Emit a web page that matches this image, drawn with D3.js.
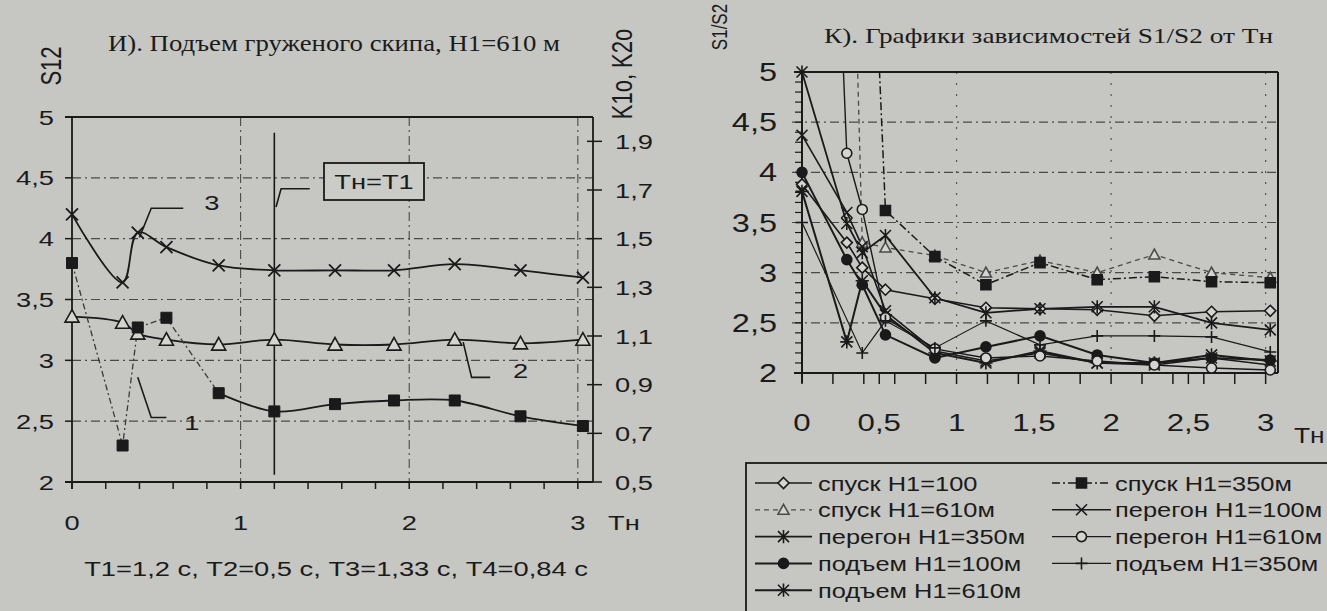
<!DOCTYPE html>
<html>
<head>
<meta charset="utf-8">
<script src="https://cdn.jsdelivr.net/npm/d3@7"></script>
<style>
  body { margin: 0; background: #c6c6c3; }
  svg { display: block; }
  text { fill: #1b1b1b; font-family: "Liberation Sans", Arial, sans-serif; }
  .serif { font-family: "Liberation Serif", "Times New Roman", serif; }
</style>
</head>
<body>
<div id="chart"></div>
<script>
// ===== DATA: panel И (left) =====
const tnLeft = [0, 0.3, 0.39, 0.56, 0.87, 1.2, 1.56, 1.91, 2.27, 2.66, 3.03];
const curve1 = [3.8, 2.3, 3.27, 3.35, 2.73, 2.58, 2.64, 2.67, 2.67, 2.54, 2.46];
const curve2 = [3.36, 3.31, 3.22, 3.17, 3.13, 3.17, 3.13, 3.13, 3.17, 3.14, 3.17];
const curve3 = [4.2, 3.64, 4.05, 3.93, 3.78, 3.74, 3.74, 3.74, 3.79, 3.74, 3.68];
const T1 = 1.2;
const leftYTicks = [2, 2.5, 3, 3.5, 4, 4.5, 5];
const leftKTicks = [0.5, 0.7, 0.9, 1.1, 1.3, 1.5, 1.7, 1.9];
const leftXTicks = [0, 1, 2, 3];
const leftTitle = "И). Подъем груженого скипа, Н1=610 м";
const leftCaption = "T1=1,2 с, T2=0,5 с, T3=1,33 с, T4=0,84 с";

// ===== DATA: panel К (right) =====
const tnRight = [0, 0.29, 0.39, 0.54, 0.86, 1.19, 1.54, 1.91, 2.28, 2.65, 3.03];
const spusk100   = [3.88, 3.3, 3.05, 2.83, 2.74, 2.65, 2.64, 2.63, 2.57, 2.61, 2.62];
const spusk610   = [16, 9, 3.3, 3.25, 3.17, 3.0, 3.12, 3.0, 3.18, 3.0, 2.95];
const peregon350 = [5.0, 3.49, 3.2, 3.37, 2.75, 2.6, 2.64, 2.66, 2.66, 2.5, 2.43];
const podem100   = [4.0, 3.13, 2.88, 2.38, 2.15, 2.26, 2.37, 2.18, 2.1, 2.15, 2.13];
const podem610   = [3.81, 2.31, 2.92, 2.58, 2.2, 2.1, 2.22, 2.1, 2.1, 2.18, 2.12];
const spusk350   = [null, null, 9, 3.62, 3.16, 2.88, 3.1, 2.93, 2.96, 2.91, 2.9];
const peregon100 = [4.37, 3.6, 3.26, 2.62, 2.22, 2.12, 2.2, 2.1, 2.08, 2.15, 2.08];
const peregon610 = [15, 4.19, 3.63, 2.55, 2.24, 2.15, 2.17, 2.12, 2.08, 2.05, 2.03];
const podem350   = [3.5, null, 2.2, 2.52, 2.25, 2.52, 2.28, 2.37, 2.37, 2.36, 2.21];
const rightYTicks = [2, 2.5, 3, 3.5, 4, 4.5, 5];
const rightXTicks = [0, 0.5, 1, 1.5, 2, 2.5, 3];
const rightTitle = "К). Графики зависимостей S1/S2 от Тн";

// ===== SIZE =====
const width = 1327;
const height = 611;
const ink = "#1a1a1a";
const sx = 1.3; // the scan's lettering is wide

const svg = d3.select("#chart")
  .append("svg")
  .attr("width", width)
  .attr("height", height);

function label(g, x, y, txt, size, anchor, stretch){
  return g.append("text")
    .attr("transform", `translate(${x},${y}) scale(${stretch || sx},1)`)
    .attr("text-anchor", anchor || "start")
    .style("font-size", size + "px")
    .text(txt);
}

function vlabel(g, x, y, txt, size){
  return g.append("text")
    .attr("transform", `translate(${x},${y}) rotate(-90) scale(1,${sx})`)
    .attr("text-anchor", "middle")
    .attr("dy", "0.35em")
    .style("font-size", size + "px")
    .text(txt);
}

function markerPath(type, r){
  if(type === "diamond") return `M0,${-r}L${r},0L0,${r}L${-r},0Z`;
  if(type === "triangle") return `M0,${-r}L${r},${r*0.8}L${-r},${r*0.8}Z`;
  if(type === "circle") return `M${r},0A${r},${r} 0 1,1 ${-r},0A${r},${r} 0 1,1 ${r},0Z`;
  if(type === "square") return `M${-r},${-r}H${r}V${r}H${-r}Z`;
  if(type === "times") return `M${-r},${-r}L${r},${r}M${-r},${r}L${r},${-r}`;
  if(type === "star") return markerPath("times", r) + `M0,${-r*1.2}L0,${r*1.2}`;
  if(type === "star8") return markerPath("star", r) + `M${-r*1.2},0L${r*1.2},0`;
  if(type === "plus") return `M${-r},0L${r},0M0,${-r}L0,${r}`;
  return "";
}

function drawMarker(g, x, y, st, r){
  g.append("path")
    .attr("transform", `translate(${x},${y})`)
    .attr("d", markerPath(st.marker, r))
    .attr("fill", st.fill)
    .attr("stroke", st.color || ink)
    .attr("stroke-width", st.mw || 1.6);
}

// ===================== LEFT PANEL =====================
const L = { x0: 72, x1: 593, y0: 117, y1: 482 };
const xL = d3.scaleLinear().domain([0, 3.09]).range([L.x0, L.x1]);
const yL = d3.scaleLinear().domain([2, 5]).range([L.y1, L.y0]);
const kL = d3.scaleLinear().domain([0.5, 2.0]).range([L.y1, L.y0]);

const gl = svg.append("g");

// grid (dash-dot)
gl.selectAll("line.hgrid")
  .data(leftYTicks.filter(v => v > 2 && v < 5))
  .join("line")
  .attr("x1", L.x0).attr("x2", L.x1)
  .attr("y1", d => yL(d)).attr("y2", d => yL(d))
  .attr("stroke", "#4a4a4a").attr("stroke-width", 1.2)
  .attr("stroke-dasharray", "9,4,2,4");

gl.selectAll("line.vgrid")
  .data(leftXTicks.filter(v => v > 0))
  .join("line")
  .attr("x1", d => xL(d)).attr("x2", d => xL(d))
  .attr("y1", L.y0).attr("y2", L.y1)
  .attr("stroke", "#4a4a4a").attr("stroke-width", 1.1)
  .attr("stroke-dasharray", "9,4,2,4");

// frame
gl.append("line").attr("x1", L.x0 - 7).attr("x2", L.x1).attr("y1", L.y0).attr("y2", L.y0)
  .attr("stroke", ink).attr("stroke-width", 2.2);
gl.append("line").attr("x1", L.x0 - 7).attr("x2", L.x1).attr("y1", L.y1).attr("y2", L.y1)
  .attr("stroke", ink).attr("stroke-width", 2.2);
gl.append("line").attr("x1", L.x0).attr("x2", L.x0).attr("y1", L.y0).attr("y2", L.y1 + 7)
  .attr("stroke", ink).attr("stroke-width", 1.8);
gl.append("line").attr("x1", L.x1).attr("x2", L.x1).attr("y1", L.y0).attr("y2", L.y1)
  .attr("stroke", ink).attr("stroke-width", 1.8);

// left y ticks + labels
leftYTicks.forEach(v => {
  gl.append("line").attr("x1", L.x0 - 7).attr("x2", L.x0).attr("y1", yL(v)).attr("y2", yL(v))
    .attr("stroke", ink).attr("stroke-width", 1.5);
  label(gl, 54, yL(v) + 7.5, String(v).replace(".", ","), 21, "end");
});

// right K ticks + labels
leftKTicks.forEach(v => {
  gl.append("line").attr("x1", L.x1 - 6).attr("x2", L.x1 + 9).attr("y1", kL(v)).attr("y2", kL(v))
    .attr("stroke", ink).attr("stroke-width", 1.5);
  label(gl, 615, kL(v) + 7.5, String(v).replace(".", ","), 21, "start");
});

// x ticks every 0.2 + labels
d3.range(0, 3.01, 0.2).forEach(v => {
  gl.append("line").attr("x1", xL(v)).attr("x2", xL(v)).attr("y1", L.y1).attr("y2", L.y1 + 7)
    .attr("stroke", ink).attr("stroke-width", 1.5);
});
leftXTicks.forEach(v => label(gl, xL(v), 530, String(v), 21, "middle"));
label(gl, 608, 530, "Тн", 21, "start");

// axis names
vlabel(gl, 51, 66, "S12", 22);
vlabel(gl, 622, 74, "K1o, K2o", 22);

// title + caption
gl.append("text").attr("class", "serif")
  .attr("x", 108).attr("y", 51)
  .attr("textLength", 452).attr("lengthAdjust", "spacingAndGlyphs")
  .style("font-size", "24px")
  .text(leftTitle);
label(gl, 336, 576, leftCaption, 21, "middle");

// T1 vertical line
gl.append("line")
  .attr("x1", xL(T1)).attr("x2", xL(T1))
  .attr("y1", yL(4.87)).attr("y2", yL(2.06))
  .attr("stroke", ink).attr("stroke-width", 1.6);

// curves
const ptsL = arr => tnLeft.map((t, i) => ({ t, v: arr[i] }));
const smoothL = d3.line().x(d => xL(d.t)).y(d => yL(d.v)).curve(d3.curveCatmullRom.alpha(0.5));
const straightL = d3.line().x(d => xL(d.t)).y(d => yL(d.v));

gl.append("path").attr("d", smoothL(ptsL(curve3)))
  .attr("fill", "none").attr("stroke", ink).attr("stroke-width", 1.8);
gl.append("path").attr("d", smoothL(ptsL(curve2)))
  .attr("fill", "none").attr("stroke", ink).attr("stroke-width", 1.8);
gl.append("path").attr("d", straightL(ptsL(curve1).slice(0, 5)))
  .attr("fill", "none").attr("stroke", "#3a3a3a").attr("stroke-width", 1.3)
  .attr("stroke-dasharray", "6,3,2,3");
gl.append("path").attr("d", smoothL(ptsL(curve1).slice(4)))
  .attr("fill", "none").attr("stroke", ink).attr("stroke-width", 1.8);

ptsL(curve3).forEach(d => drawMarker(gl, xL(d.t), yL(d.v), { marker: "times", fill: "none", mw: 1.8 }, 6));
ptsL(curve2).forEach(d => drawMarker(gl, xL(d.t), yL(d.v), { marker: "triangle", fill: "#d4d4d1", mw: 1.6 }, 7));
ptsL(curve1).forEach(d => drawMarker(gl, xL(d.t), yL(d.v), { marker: "square", fill: ink, mw: 1 }, 5.5));

// annotations (leader lines)
const leader = pts => d3.line().x(d => xL(d[0])).y(d => yL(d[1]))(pts);
[
  [[0.40, 4.01], [0.47, 4.25], [0.66, 4.25]],
  [[1.21, 4.26], [1.24, 4.41], [1.41, 4.41]],
  [[2.32, 3.15], [2.37, 2.86], [2.48, 2.86]],
  [[0.39, 2.86], [0.47, 2.53], [0.56, 2.53]]
].forEach(p => {
  gl.append("path").attr("d", leader(p)).attr("fill", "none")
    .attr("stroke", ink).attr("stroke-width", 1.6);
});
label(gl, xL(0.83), yL(4.3) + 8, "3", 21, "middle");
label(gl, xL(2.66), yL(2.92) + 8, "2", 21, "middle");
label(gl, xL(0.71), yL(2.49) + 8, "1", 21, "middle");
gl.append("rect").attr("x", 324).attr("y", 163).attr("width", 100).attr("height", 37)
  .attr("fill", "#cbcbc8").attr("stroke", ink).attr("stroke-width", 1.8);
label(gl, 374, 189, "Тн=T1", 21, "middle");

// ===================== RIGHT PANEL =====================
const R = { x0: 802, x1: 1278, y0: 72, y1: 373 };
const xR = d3.scaleLinear().domain([0, 3.08]).range([R.x0, R.x1]);
const yR = d3.scaleLinear().domain([2, 5]).range([R.y1, R.y0]);

const gr = svg.append("g");

svg.append("defs").append("clipPath").attr("id", "clipR")
  .append("rect").attr("x", R.x0).attr("y", R.y0)
  .attr("width", R.x1 - R.x0).attr("height", R.y1 - R.y0);

gr.selectAll("line.hgrid")
  .data(rightYTicks.filter(v => v > 2 && v < 5))
  .join("line")
  .attr("x1", R.x0 - 10).attr("x2", R.x1)
  .attr("y1", d => yR(d)).attr("y2", d => yR(d))
  .attr("stroke", "#4a4a4a").attr("stroke-width", 1.2)
  .attr("stroke-dasharray", "9,4,2,4");

gr.selectAll("line.vgrid")
  .data([1, 2, 3])
  .join("line")
  .attr("x1", d => xR(d)).attr("x2", d => xR(d))
  .attr("y1", R.y0).attr("y2", R.y1)
  .attr("stroke", "#555").attr("stroke-width", 1.2)
  .attr("stroke-dasharray", "2,9");

// frame
gr.append("line").attr("x1", R.x0 - 8).attr("x2", R.x1).attr("y1", R.y0).attr("y2", R.y0)
  .attr("stroke", ink).attr("stroke-width", 2);
gr.append("line").attr("x1", R.x0 - 8).attr("x2", R.x1).attr("y1", R.y1).attr("y2", R.y1)
  .attr("stroke", ink).attr("stroke-width", 2.2);
gr.append("line").attr("x1", R.x0).attr("x2", R.x0).attr("y1", R.y0).attr("y2", R.y1 + 10)
  .attr("stroke", ink).attr("stroke-width", 2);
gr.append("line").attr("x1", R.x1).attr("x2", R.x1).attr("y1", R.y0).attr("y2", R.y1)
  .attr("stroke", ink).attr("stroke-width", 2);

// y minor ticks every 0.1
d3.range(2, 5.001, 0.1).forEach(v => {
  gr.append("line").attr("x1", R.x0 - 7).attr("x2", R.x0).attr("y1", yR(v)).attr("y2", yR(v))
    .attr("stroke", ink).attr("stroke-width", 1.2);
});
rightYTicks.forEach(v => label(gr, 777, yR(v) + 9, String(v).replace(".", ","), 25, "end"));

// x ticks
const xTicksR = d3.range(0, 3.01, 0.2).concat([0.5, 1.5, 2.5]);
xTicksR.forEach(v => {
  gr.append("line").attr("x1", xR(v)).attr("x2", xR(v)).attr("y1", R.y1).attr("y2", R.y1 + 11)
    .attr("stroke", ink).attr("stroke-width", 1.5);
});
rightXTicks.forEach(v => label(gr, xR(v), 431, String(v).replace(".", ","), 24, "middle"));
label(gr, 1294, 443, "Тн", 22, "start", 1.2);

vlabel(gr, 719, 27, "S1/S2", 17);
gr.append("text").attr("class", "serif")
  .attr("x", 824).attr("y", 43)
  .attr("textLength", 449).attr("lengthAdjust", "spacingAndGlyphs")
  .style("font-size", "22px")
  .text(rightTitle);

// series styles
const rightSeries = [
  { name: "спуск H1=100",    values: spusk100,   marker: "diamond",  fill: "#d4d4d1", dash: null,       width: 1.6, col: 0 },
  { name: "спуск H1=610м",   values: spusk610,   marker: "triangle", fill: "#d4d4d1", dash: "5,4",      width: 1.3, col: 0, color: "#4a4a4a" },
  { name: "перегон H1=350м", values: peregon350, marker: "star",     fill: "none",    dash: null,       width: 1.8, col: 0 },
  { name: "подъем H1=100м",  values: podem100,   marker: "circle",   fill: ink,       dash: null,       width: 2, col: 0 },
  { name: "подъем H1=610м",  values: podem610,   marker: "star8",    fill: "none",    dash: null,       width: 2, col: 0 },
  { name: "спуск H1=350м",   values: spusk350,   marker: "square",   fill: ink,       dash: "8,3,2,3",  width: 1.5, col: 1 },
  { name: "перегон H1=100м", values: peregon100, marker: "times",    fill: "none",    dash: null,       width: 1.6, col: 1 },
  { name: "перегон H1=610м", values: peregon610, marker: "circle",   fill: "#d4d4d1", dash: null,       width: 1.4, col: 1 },
  { name: "подъем H1=350м",  values: podem350,   marker: "plus",     fill: "none",    dash: null,       width: 1.2, col: 1 }
];
const markerR = { diamond: 5.5, triangle: 5.5, star: 5.5, circle: 5, star8: 5.5, square: 5, times: 5.5, plus: 6 };

const lineR = d3.line().x(d => xR(d.t)).y(d => yR(d.v));
const gLines = gr.append("g").attr("clip-path", "url(#clipR)");
const gMarks = gr.append("g");

rightSeries.forEach(s => {
  const pts = tnRight.map((t, i) => ({ t, v: s.values[i] })).filter(d => d.v != null);
  gLines.append("path").attr("d", lineR(pts))
    .attr("fill", "none")
    .attr("stroke", s.color || ink)
    .attr("stroke-width", s.width)
    .attr("stroke-dasharray", s.dash);
  pts.filter(d => d.v <= 5.05).forEach(d =>
    drawMarker(gMarks, xR(d.t), yR(d.v), s, markerR[s.marker]));
});

// legend
const leg = { x: 746, y: 463, rowH: 26.8, firstRow: 483, cols: [[755, 812, 818], [1052, 1111, 1115]] };
gr.append("rect").attr("x", leg.x).attr("y", leg.y).attr("width", 700).attr("height", 220)
  .attr("fill", "none").attr("stroke", ink).attr("stroke-width", 1.8);

const rowIdx = [0, 0];
rightSeries.forEach(s => {
  const c = leg.cols[s.col];
  const cy = leg.firstRow + rowIdx[s.col] * leg.rowH;
  rowIdx[s.col]++;
  gr.append("line").attr("x1", c[0]).attr("x2", c[1]).attr("y1", cy).attr("y2", cy)
    .attr("stroke", s.color || ink).attr("stroke-width", s.width)
    .attr("stroke-dasharray", s.dash);
  drawMarker(gr, (c[0] + c[1]) / 2, cy, s, markerR[s.marker]);
  label(gr, c[2], cy + 7.5, s.name, 20, "start", 1.27);
});
</script>
</body>
</html>
